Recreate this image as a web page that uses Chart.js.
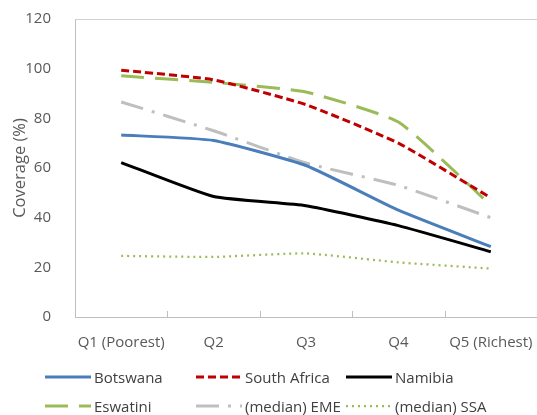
<!DOCTYPE html>
<html>
<head>
<meta charset="utf-8">
<script src="https://cdn.jsdelivr.net/npm/chart.js@4"></script>
<style>
  html, body { margin: 0; padding: 0; background: #fff; }
  #wrap { position: relative; width: 537px; height: 415px; overflow: hidden; }
  #legend { position: absolute; left: 0; top: 0; width: 537px; height: 415px; pointer-events: none;
    font-family: "Open Sans", "Noto Sans", sans-serif; font-size: 15px; color: #404040; }
  .item { position: absolute; display: flex; align-items: center; white-space: nowrap; }
  .item svg { margin-right: 3px; }
</style>
</head>
<body>
<div id="wrap">
  <canvas id="chart" width="537" height="415"></canvas>
  <div id="legend"></div>
</div>
<script>
// categories and values
const quintiles = ["Q1 (Poorest)", "Q2", "Q3", "Q4", "Q5 (Richest)"];
const botswana = [73.3, 71.1, 61, 43, 28.3];
const southAfrica = [99.4, 95.5, 85.5, 70, 48];
const namibia = [62.2, 48.5, 44.8, 36.8, 26.3];
const eswatini = [97.1, 94.5, 90.6, 78.5, 45];
const emeMedian = [86.6, 75, 62, 53, 40];
const ssaMedian = [24.6, 24.2, 25.6, 22, 19.5];
const yTicks = [0, 20, 40, 60, 80, 100, 120];

const series = [
  { label: "Botswana", data: botswana, color: "#4a7ebb", width: 3, dash: [] },
  { label: "South Africa", data: southAfrica, color: "#c00000", width: 3, dash: [8, 4] },
  { label: "Namibia", data: namibia, color: "#000000", width: 3, dash: [] },
  { label: "Eswatini", data: eswatini, color: "#9bbb59", width: 3, dash: [23, 11] },
  { label: "(median) EME", data: emeMedian, color: "#bfbfbf", width: 3, dash: [23, 9, 3, 9] },
  { label: "(median) SSA", data: ssaMedian, color: "#9bbb59", width: 2.25, dash: [2, 4] },
];

const fontFamily = '"Open Sans", "Noto Sans", sans-serif';

// top border of the plot and the small inside tick marks between categories
const frame = {
  id: "frame",
  beforeDatasetsDraw(chart) {
    const { ctx, chartArea } = chart;
    const x = chart.scales.x;
    ctx.save();
    ctx.lineWidth = 1;
    ctx.strokeStyle = "#d0d0d0";
    ctx.beginPath();
    ctx.moveTo(chartArea.left, Math.round(chartArea.top) + 0.5);
    ctx.lineTo(chartArea.right, Math.round(chartArea.top) + 0.5);
    ctx.stroke();
    ctx.strokeStyle = "#bfbfbf";
    ctx.beginPath();
    for (let i = 1; i < quintiles.length; i++) {
      const px = Math.round((x.getPixelForTick(i - 1) + x.getPixelForTick(i)) / 2) + 0.5;
      ctx.moveTo(px, chartArea.bottom);
      ctx.lineTo(px, chartArea.bottom - 6);
    }
    ctx.stroke();
    ctx.restore();
  },
};

const ctx = document.getElementById("chart").getContext("2d");
new Chart(ctx, {
  type: "line",
  data: {
    labels: quintiles,
    datasets: series.map((s) => ({
      label: s.label,
      data: s.data,
      borderColor: s.color,
      backgroundColor: s.color,
      borderWidth: s.width,
      borderDash: s.dash,
      borderCapStyle: "butt",
      pointRadius: 0,
      tension: 0.15,
      fill: false,
    })),
  },
  options: {
    responsive: false,
    animation: false,
    layout: { padding: { top: 19, right: -4, bottom: 58, left: 0 } },
    plugins: { legend: { display: false }, tooltip: { enabled: false } },
    scales: {
      x: {
        offset: true,
        grid: { display: false },
        border: { color: "#bfbfbf", width: 1 },
        ticks: {
          color: "#595959",
          font: { family: fontFamily, size: 15 },
          padding: 9,
          maxRotation: 0,
          autoSkip: false,
        },
        afterFit: (scale) => {
          scale.height = 40;
          scale.paddingLeft = 0;
          scale.paddingRight = 0;
        },
      },
      y: {
        min: 0,
        max: 120,
        afterBuildTicks: (scale) => { scale.ticks = yTicks.map((v) => ({ value: v })); },
        grid: { display: false },
        border: { color: "#bfbfbf", width: 1 },
        ticks: {
          color: "#595959",
          font: { family: fontFamily, size: 15 },
          padding: 16,
        },
        title: {
          display: true,
          text: "Coverage (%)",
          color: "#595959",
          font: { family: fontFamily, size: 16.5 },
          padding: { top: 10, bottom: 0 },
        },
        afterFit: (scale) => {
          scale.width = 75;
          scale.paddingTop = 0;
          scale.paddingBottom = 0;
        },
      },
    },
  },
  plugins: [frame],
});

// legend laid out in two rows of three like the original
const legend = document.getElementById("legend");
const legendX = [45, 196, 346];
const legendY = [377, 406];
series.forEach((s, i) => {
  const item = document.createElement("div");
  item.className = "item";
  item.style.left = legendX[i % 3] + "px";
  item.style.top = legendY[Math.floor(i / 3)] - 10 + "px";
  item.style.height = "20px";
  const dash = s.dash.length ? `stroke-dasharray="${s.dash.join(" ")}"` : "";
  item.innerHTML =
    `<svg width="46" height="6"><line x1="0" y1="3" x2="46" y2="3" stroke="${s.color}" stroke-width="${s.width}" ${dash}/></svg>` +
    `<span>${s.label}</span>`;
  legend.appendChild(item);
});
</script>
</body>
</html>
